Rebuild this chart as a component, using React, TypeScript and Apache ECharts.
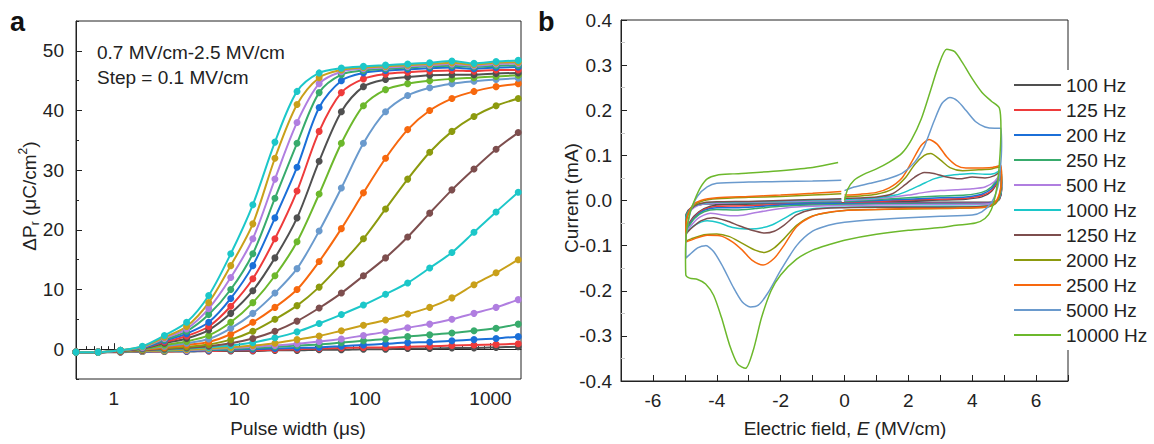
import React, { useEffect, useRef } from "react";
import * as echarts from "echarts";

// ---------------- Panel a data ----------------
const pulseWidths = [0.5, 0.75, 1.13, 1.69, 2.53, 3.8, 5.7, 8.54, 12.8, 19.2, 28.8, 43.2, 64.9, 97.3, 146, 219, 328, 493, 739, 1108, 1663];
const fieldLabels = ["0.7 MV/cm", "0.8 MV/cm", "0.9 MV/cm", "1.0 MV/cm", "1.1 MV/cm", "1.2 MV/cm", "1.3 MV/cm", "1.4 MV/cm", "1.5 MV/cm", "1.6 MV/cm", "1.7 MV/cm", "1.8 MV/cm", "1.9 MV/cm", "2.0 MV/cm", "2.1 MV/cm", "2.2 MV/cm", "2.3 MV/cm", "2.4 MV/cm", "2.5 MV/cm"];
const dP07 = [-0.5, -0.5, -0.5, -0.4, -0.4, -0.4, -0.3, -0.3, -0.3, -0.2, -0.2, -0.1, -0.1, 0, 0, 0.1, 0.1, 0.2, 0.2, 0.3, 0.4];
const dP08 = [-0.5, -0.5, -0.4, -0.4, -0.4, -0.3, -0.3, -0.2, -0.2, -0.1, 0, 0.1, 0.2, 0.3, 0.3, 0.4, 0.5, 0.6, 0.7, 0.8, 0.9];
const dP09 = [-0.5, -0.5, -0.4, -0.4, -0.3, -0.3, -0.2, -0.1, 0, 0.1, 0.2, 0.3, 0.5, 0.7, 0.9, 1.1, 1.2, 1.4, 1.6, 1.8, 2.1];
const dP10 = [-0.5, -0.5, -0.4, -0.3, -0.3, -0.2, -0.1, 0, 0.2, 0.4, 0.6, 0.8, 1.1, 1.4, 1.7, 2.1, 2.4, 2.7, 3.1, 3.5, 4.2];
const dP11 = [-0.5, -0.5, -0.4, -0.3, -0.2, -0.2, 0, 0.2, 0.4, 0.6, 0.9, 1.3, 1.7, 2.3, 2.9, 3.6, 4.2, 5, 6, 7, 8.3];
const dP12 = [-0.5, -0.5, -0.4, -0.3, -0.2, -0.1, 0.1, 0.3, 0.6, 1, 1.6, 2.2, 3.1, 4, 4.9, 5.9, 7, 8.6, 10.8, 12.8, 15];
const dP13 = [-0.5, -0.5, -0.4, -0.2, -0.1, 0.1, 0.3, 0.6, 1.1, 1.9, 2.9, 4.3, 5.8, 7.4, 9.2, 11.1, 13.6, 16.2, 19.6, 23, 26.3];
const dP14 = [-0.5, -0.5, -0.4, -0.2, 0, 0.2, 0.5, 1, 1.8, 3, 4.7, 6.9, 9.4, 12.3, 15.3, 18.8, 22.8, 26.7, 30.2, 33.5, 36.3];
const dP15 = [-0.5, -0.5, -0.3, -0.1, 0.2, 0.4, 0.8, 1.6, 3, 5, 7.3, 10.4, 14.3, 18.5, 23.5, 28.5, 33, 36.5, 39, 40.8, 42];
const dP16 = [-0.5, -0.5, -0.3, -0.1, 0.3, 0.7, 1.2, 2.5, 4.5, 7, 10, 14.7, 20.2, 26.2, 32, 36.8, 40, 42, 43.2, 44, 44.5];
const dP17 = [-0.5, -0.5, -0.3, 0, 0.5, 1, 1.7, 3.5, 6, 9.4, 13.5, 19.8, 27, 34.5, 39.8, 42.5, 43.8, 44.5, 44.9, 45.2, 45.4];
const dP18 = [-0.5, -0.5, -0.3, 0, 0.7, 1.3, 2.3, 4.5, 7.8, 12.3, 18, 26, 34.5, 40.8, 43.5, 44.5, 45, 45.3, 45.5, 45.7, 45.9];
const dP19 = [-0.5, -0.5, -0.3, 0.1, 1, 1.8, 3.2, 6, 9.8, 15.3, 22, 31.5, 39.8, 44, 45.2, 45.6, 45.9, 46, 46, 46.2, 46.3];
const dP20 = [-0.5, -0.5, -0.3, 0.2, 1.2, 2.2, 3.8, 7.2, 11.8, 18.5, 26.5, 36.5, 43, 45.3, 46.1, 46.4, 46.6, 46.7, 46.6, 46.8, 46.8];
const dP21 = [-0.5, -0.5, -0.2, 0.2, 1.4, 2.6, 4.5, 8.5, 14, 22, 30.5, 40.5, 45, 46.3, 46.7, 46.9, 47.1, 47.2, 47, 47.2, 47.3];
const dP22 = [-0.5, -0.5, -0.2, 0.3, 1.6, 3, 5.8, 10, 16, 25.3, 34.5, 43, 46, 46.7, 47, 47.2, 47.4, 47.5, 47.3, 47.5, 47.6];
const dP23 = [-0.5, -0.5, -0.2, 0.3, 1.8, 3.4, 6.8, 12, 18.5, 28.5, 38, 44.5, 46.5, 47, 47.2, 47.4, 47.6, 47.8, 47.5, 47.8, 47.9];
const dP24 = [-0.5, -0.5, -0.2, 0.4, 2, 3.8, 7.8, 14, 21, 32, 41, 45.5, 46.8, 47.2, 47.4, 47.6, 47.8, 48, 47.7, 48, 48.1];
const dP25 = [-0.5, -0.5, -0.2, 0.5, 2.3, 4.5, 9, 16, 24.2, 34.7, 43.2, 46.3, 47.1, 47.4, 47.6, 47.8, 48, 48.3, 47.9, 48.2, 48.4];
const dPCurves = [dP07, dP08, dP09, dP10, dP11, dP12, dP13, dP14, dP15, dP16, dP17, dP18, dP19, dP20, dP21, dP22, dP23, dP24, dP25];

const xMajorTicks = [1, 10, 100, 1000];
const xMinorTicks = [0.6, 0.7, 0.8, 0.9, 2, 3, 4, 5, 6, 7, 8, 9, 20, 30, 40, 50, 60, 70, 80, 90, 200, 300, 400, 500, 600, 700, 800, 900];
const yMajorTicksA = [0, 10, 20, 30, 40, 50];

// ---------------- Panel b data ([E (MV/cm), I (mA)]) ----------------
const freqLabels = ["100 Hz", "125 Hz", "200 Hz", "250 Hz", "500 Hz", "1000 Hz", "1250 Hz", "2000 Hz", "2500 Hz", "5000 Hz", "10000 Hz"];
const cv100 = [[0, -0.004], [1, -0.003], [2, -0.001], [3, 0.001], [3.8, 0.003], [4.3, 0.008], [4.6, 0.02], [4.9, 0.05], [4.92, 0.024], [4.85, 0.002], [4.7, -0.003], [4.4, -0.004], [3, -0.004], [1, -0.004], [0, -0.005], [-1, -0.006], [-2, -0.007], [-2.8, -0.008], [-3.4, -0.009], [-4, -0.01], [-4.4, -0.018], [-4.7, -0.034], [-4.97, -0.062], [-4.97, -0.038], [-4.9, -0.022], [-4.7, -0.012], [-4.4, -0.008], [-4, -0.007], [-3, -0.006], [-2, -0.006], [-1, -0.005], [-0.1, -0.004]];
const cv125 = [[0, -0.004], [1, -0.002], [2, 0.001], [3, 0.003], [3.8, 0.005], [4.3, 0.011], [4.6, 0.022], [4.9, 0.052], [4.92, 0.025], [4.85, 0.003], [4.7, -0.003], [4.4, -0.005], [3, -0.005], [1, -0.005], [0, -0.006], [-1, -0.007], [-2, -0.009], [-2.8, -0.011], [-3.4, -0.012], [-4, -0.013], [-4.4, -0.02], [-4.7, -0.036], [-4.97, -0.064], [-4.97, -0.039], [-4.9, -0.023], [-4.7, -0.012], [-4.4, -0.008], [-4, -0.006], [-3, -0.005], [-2, -0.005], [-1, -0.004], [-0.1, -0.003]];
const cv200 = [[0, -0.003], [1, 0], [2, 0.003], [3, 0.006], [3.8, 0.008], [4.3, 0.014], [4.6, 0.026], [4.9, 0.055], [4.92, 0.028], [4.85, 0.004], [4.7, -0.004], [4.4, -0.006], [3, -0.006], [1, -0.006], [0, -0.007], [-1, -0.008], [-2, -0.01], [-2.8, -0.014], [-3.4, -0.016], [-4, -0.016], [-4.4, -0.022], [-4.7, -0.038], [-4.97, -0.066], [-4.97, -0.04], [-4.9, -0.024], [-4.7, -0.012], [-4.4, -0.007], [-4, -0.006], [-3, -0.005], [-2, -0.005], [-1, -0.004], [-0.1, -0.003]];
const cv250 = [[0, -0.002], [1, 0.002], [2, 0.006], [3, 0.01], [3.8, 0.012], [4.3, 0.018], [4.6, 0.03], [4.9, 0.058], [4.92, 0.03], [4.85, 0.005], [4.7, -0.005], [4.4, -0.008], [3, -0.008], [1, -0.008], [0, -0.009], [-1, -0.01], [-2, -0.013], [-2.8, -0.018], [-3.4, -0.021], [-4, -0.02], [-4.4, -0.025], [-4.7, -0.04], [-4.97, -0.068], [-4.97, -0.04], [-4.9, -0.025], [-4.7, -0.013], [-4.4, -0.008], [-4, -0.006], [-3, -0.005], [-2, -0.004], [-1, -0.003], [-0.1, -0.002]];
const cv500 = [[0, 0], [1, 0.004], [2, 0.012], [2.5, 0.018], [3, 0.022], [3.5, 0.024], [4, 0.026], [4.4, 0.03], [4.7, 0.042], [4.9, 0.06], [4.92, 0.035], [4.85, 0.008], [4.7, -0.005], [4.4, -0.008], [3, -0.009], [1, -0.01], [0, -0.011], [-1, -0.013], [-1.8, -0.016], [-2.4, -0.022], [-3, -0.03], [-3.4, -0.034], [-3.8, -0.032], [-4.2, -0.028], [-4.6, -0.04], [-4.97, -0.07], [-4.97, -0.045], [-4.9, -0.03], [-4.7, -0.015], [-4.4, -0.008], [-4, -0.006], [-3, -0.004], [-2, -0.003], [-1, -0.001], [-0.1, 0]];
const cv1000 = [[0, 0.002], [1, 0.006], [1.6, 0.012], [2, 0.022], [2.4, 0.035], [2.8, 0.048], [3.2, 0.055], [3.6, 0.058], [4, 0.06], [4.4, 0.058], [4.7, 0.06], [4.9, 0.068], [4.92, 0.04], [4.85, 0.008], [4.7, -0.008], [4.4, -0.012], [3, -0.013], [1, -0.014], [0, -0.015], [-1, -0.018], [-1.5, -0.025], [-1.9, -0.04], [-2.3, -0.055], [-2.7, -0.062], [-3.1, -0.063], [-3.5, -0.06], [-3.9, -0.05], [-4.3, -0.045], [-4.7, -0.055], [-4.97, -0.072], [-4.97, -0.045], [-4.9, -0.028], [-4.7, -0.012], [-4.4, -0.006], [-4, -0.004], [-3, -0.003], [-2, -0.001], [-1, 0.001], [-0.1, 0.003]];
const cv1250 = [[0, 0.005], [1, 0.008], [1.5, 0.015], [1.9, 0.035], [2.2, 0.052], [2.5, 0.062], [2.8, 0.06], [3.2, 0.052], [3.6, 0.048], [4, 0.052], [4.4, 0.05], [4.7, 0.055], [4.9, 0.065], [4.92, 0.04], [4.85, 0.01], [4.7, -0.008], [4.4, -0.013], [3, -0.015], [1, -0.015], [0, -0.016], [-1, -0.02], [-1.5, -0.032], [-1.9, -0.055], [-2.2, -0.068], [-2.5, -0.072], [-2.9, -0.066], [-3.3, -0.056], [-3.7, -0.045], [-4.1, -0.038], [-4.5, -0.045], [-4.85, -0.065], [-4.97, -0.075], [-4.97, -0.05], [-4.9, -0.03], [-4.7, -0.012], [-4.4, -0.005], [-4, -0.003], [-3, -0.002], [-2, 0], [-1, 0.002], [-0.1, 0.004]];
const cv2000 = [[0, 0.008], [1, 0.014], [1.5, 0.025], [1.9, 0.05], [2.2, 0.08], [2.5, 0.1], [2.7, 0.104], [3, 0.09], [3.3, 0.073], [3.7, 0.066], [4.2, 0.068], [4.6, 0.07], [4.9, 0.075], [4.92, 0.045], [4.85, 0.01], [4.7, -0.008], [4.4, -0.015], [3, -0.018], [1, -0.02], [0, -0.022], [-1, -0.034], [-1.5, -0.055], [-1.9, -0.085], [-2.2, -0.105], [-2.5, -0.115], [-2.8, -0.11], [-3.2, -0.095], [-3.6, -0.08], [-4, -0.074], [-4.4, -0.076], [-4.8, -0.085], [-4.97, -0.09], [-4.97, -0.06], [-4.9, -0.03], [-4.7, -0.01], [-4.4, 0], [-4, 0.004], [-3, 0.007], [-2, 0.009], [-1, 0.012], [-0.1, 0.015]];
const cv2500 = [[0, 0.012], [0.5, 0.014], [1, 0.018], [1.4, 0.028], [1.8, 0.05], [2.1, 0.085], [2.4, 0.122], [2.65, 0.135], [2.9, 0.125], [3.2, 0.097], [3.5, 0.078], [3.8, 0.072], [4.2, 0.072], [4.6, 0.073], [4.9, 0.078], [4.92, 0.05], [4.85, 0.015], [4.7, -0.005], [4.4, -0.015], [3.5, -0.017], [2, -0.018], [1, -0.02], [0, -0.022], [-0.5, -0.026], [-1, -0.035], [-1.5, -0.058], [-1.9, -0.1], [-2.2, -0.128], [-2.55, -0.143], [-2.9, -0.132], [-3.2, -0.11], [-3.5, -0.092], [-3.9, -0.078], [-4.3, -0.077], [-4.7, -0.085], [-4.97, -0.092], [-4.97, -0.06], [-4.9, -0.03], [-4.75, -0.01], [-4.5, 0], [-4, 0.006], [-3, 0.009], [-2, 0.012], [-1, 0.016], [-0.1, 0.02]];
const cv5000 = [[0, 0.022], [0.3, 0.03], [0.8, 0.038], [1.3, 0.047], [1.8, 0.06], [2.2, 0.085], [2.5, 0.12], [2.8, 0.175], [3.05, 0.215], [3.3, 0.228], [3.55, 0.22], [3.8, 0.2], [4.1, 0.175], [4.4, 0.163], [4.7, 0.16], [4.9, 0.16], [4.92, 0.12], [4.88, 0.07], [4.8, 0.03], [4.6, -0.005], [4.3, -0.025], [4, -0.032], [3, -0.035], [2, -0.038], [1, -0.042], [0, -0.048], [-0.5, -0.055], [-1, -0.068], [-1.5, -0.1], [-2, -0.155], [-2.4, -0.205], [-2.7, -0.232], [-2.95, -0.236], [-3.2, -0.225], [-3.5, -0.19], [-3.8, -0.148], [-4.1, -0.113], [-4.35, -0.1], [-4.6, -0.105], [-4.85, -0.12], [-4.97, -0.128], [-4.97, -0.09], [-4.9, -0.05], [-4.8, -0.02], [-4.6, 0.01], [-4.3, 0.03], [-4, 0.038], [-3, 0.041], [-2, 0.042], [-1, 0.043], [-0.1, 0.045]];
const cv10000 = [[0, 0], [0.1, 0.025], [0.3, 0.045], [0.6, 0.058], [1, 0.07], [1.4, 0.085], [1.8, 0.105], [2.1, 0.135], [2.4, 0.18], [2.7, 0.245], [2.95, 0.3], [3.2, 0.335], [3.45, 0.33], [3.7, 0.305], [4, 0.27], [4.3, 0.24], [4.6, 0.22], [4.85, 0.205], [4.9, 0.16], [4.85, 0.08], [4.75, 0.02], [4.6, -0.02], [4.4, -0.04], [4.1, -0.05], [3.5, -0.055], [3, -0.06], [2, -0.066], [1, -0.075], [0, -0.088], [-0.5, -0.098], [-1, -0.11], [-1.5, -0.13], [-2, -0.165], [-2.3, -0.2], [-2.6, -0.26], [-2.85, -0.33], [-3.1, -0.372], [-3.35, -0.362], [-3.6, -0.32], [-3.85, -0.26], [-4.1, -0.21], [-4.35, -0.185], [-4.6, -0.175], [-4.85, -0.172], [-4.97, -0.165], [-4.98, -0.12], [-4.95, -0.07], [-4.85, -0.03], [-4.7, 0], [-4.5, 0.03], [-4.3, 0.048], [-4, 0.056], [-3.5, 0.059], [-3, 0.061], [-2, 0.066], [-1, 0.073], [-0.2, 0.084]];
const cvCurves = [cv100, cv125, cv200, cv250, cv500, cv1000, cv1250, cv2000, cv2500, cv5000, cv10000];

// ---------------- styles ----------------
const FONT = "'Liberation Sans', Arial, Helvetica, sans-serif";
const INK = "#222";
const C = {
  grey: "#505050", red: "#ee3b3b", blue: "#1b6fd8", green: "#38ab6c", purple: "#b07ee0", gold: "#c9a01a",
  cyan: "#1cc7c9", brown: "#7d4e4e", olive: "#8c9a0e", orange: "#f7680e", lightblue: "#6a9acd", lightgreen: "#6cb82c",
};
const colorsA = [C.grey, C.red, C.blue, C.green, C.purple, C.gold, C.cyan, C.brown, C.olive, C.orange, C.lightblue, C.lightgreen, C.grey, C.red, C.blue, C.green, C.purple, C.gold, C.cyan];
const colorsB = [C.grey, C.red, C.blue, C.green, C.purple, C.cyan, C.brown, C.olive, C.orange, C.lightblue, C.lightgreen];

const tickLabel = { fontSize: 19, color: INK, fontFamily: FONT };

export default function App() {
  const ref = useRef<HTMLDivElement>(null);
  useEffect(() => {
    if (!ref.current) return;
    const chart = echarts.init(ref.current, null, { renderer: "svg" });

    const seriesA = dPCurves.map((arr, i) => ({
      name: fieldLabels[i],
      type: "line",
      xAxisIndex: 0,
      yAxisIndex: 0,
      data: pulseWidths.map((x, k) => [x, arr[k]]),
      smooth: 0.3,
      symbol: "circle",
      symbolSize: 7,
      lineStyle: { width: 2, color: colorsA[i] },
      itemStyle: { color: colorsA[i] },
      z: 3,
    }));
    const seriesB = cvCurves.map((arr, i) => ({
      name: freqLabels[i],
      type: "line",
      xAxisIndex: 2,
      yAxisIndex: 2,
      data: arr,
      smooth: 0.25,
      symbol: "none",
      lineStyle: { width: 1.5, color: colorsB[i] },
      itemStyle: { color: colorsB[i] },
      z: 3,
    }));

    const option: any = {
      animation: false,
      textStyle: { fontFamily: FONT },
      grid: [
        { left: 76, top: 21, width: 445, height: 358, show: true, borderColor: INK, borderWidth: 1, backgroundColor: "transparent" },
        { left: 621, top: 20, width: 447, height: 361, show: true, borderColor: INK, borderWidth: 1, backgroundColor: "transparent" },
      ],
      xAxis: [
        {
          gridIndex: 0, type: "log", logBase: 10, min: 0.5, max: 1750, position: "bottom",
          axisLine: { show: true, lineStyle: { color: INK, width: 1 } },
          axisTick: { show: true, inside: true, length: 6, customValues: xMajorTicks, lineStyle: { color: INK } },
          axisLabel: { show: true, customValues: xMajorTicks, margin: 10, formatter: (v: number) => String(Math.round(v)), ...tickLabel },
          splitLine: { show: false }, minorTick: { show: false },
        },
        {
          gridIndex: 0, type: "log", logBase: 10, min: 0.5, max: 1750, position: "bottom",
          axisLine: { show: false },
          axisTick: { show: true, inside: true, length: 3, customValues: xMinorTicks, lineStyle: { color: INK } },
          axisLabel: { show: false },
          splitLine: { show: false },
        },
        {
          gridIndex: 1, type: "value", min: -7, max: 7, interval: 1,
          axisLine: { show: true, onZero: false, lineStyle: { color: INK, width: 1 } },
          axisTick: { show: true, inside: true, length: 6, lineStyle: { color: INK } },
          axisLabel: { margin: 10, formatter: (v: number) => (Math.round(v) % 2 === 0 ? String(Math.round(v)) : ""), ...tickLabel },
          splitLine: { show: false },
        },
      ],
      yAxis: [
        {
          gridIndex: 0, type: "value", min: -5, max: 55, interval: 5, position: "left",
          axisLine: { show: true, lineStyle: { color: INK, width: 1 } },
          axisTick: { show: true, inside: true, length: 3, lineStyle: { color: INK } },
          axisLabel: { margin: 12, formatter: (v: number) => (v >= 0 && Math.round(v) % 10 === 0 ? String(Math.round(v)) : ""), ...tickLabel },
          splitLine: { show: false },
        },
        {
          gridIndex: 0, type: "value", min: -5, max: 55, interval: 5, position: "left", offset: 0,
          axisLine: { show: false },
          axisTick: { show: true, inside: true, length: 6, customValues: yMajorTicksA, lineStyle: { color: INK } },
          axisLabel: { show: false },
          splitLine: { show: false },
        },
        {
          gridIndex: 1, type: "value", min: -0.4, max: 0.4, interval: 0.1,
          axisLine: { show: true, onZero: false, lineStyle: { color: INK, width: 1 } },
          axisTick: { show: true, inside: true, length: 6, lineStyle: { color: INK } },
          minorTick: { show: true, splitNumber: 2, length: 4, lineStyle: { color: "#c8c8c8" } },
          axisLabel: { margin: 9, formatter: (v: number) => (Math.abs(v) < 1e-9 ? "0.0" : v.toFixed(1)), ...tickLabel },
          splitLine: { show: false },
        },
      ],
      legend: {
        data: freqLabels,
        orient: "vertical",
        left: 1005,
        top: 70,
        icon: "rect",
        itemWidth: 47,
        itemHeight: 2,
        itemGap: 5,
        padding: [5, 5, 5, 9],
        backgroundColor: "#ffffff",
        selectedMode: false,
        textStyle: { fontSize: 19, lineHeight: 20, color: INK, fontFamily: FONT },
        z: 10,
      },
      graphic: [
        { type: "text", left: 10, top: 8, style: { text: "a", fontSize: 27, fontWeight: "bold", fill: "#111", fontFamily: FONT } },
        { type: "text", left: 538, top: 8, style: { text: "b", fontSize: 27, fontWeight: "bold", fill: "#111", fontFamily: FONT } },
        { type: "text", x: 97, y: 52, style: { text: "0.7 MV/cm-2.5 MV/cm", fontSize: 19, fill: INK, fontFamily: FONT, verticalAlign: "middle" } },
        { type: "text", x: 97, y: 77, style: { text: "Step = 0.1 MV/cm", fontSize: 19, fill: INK, fontFamily: FONT, verticalAlign: "middle" } },
        { type: "text", x: 298, y: 428, style: { text: "Pulse width (μs)", fontSize: 19, fill: INK, fontFamily: FONT, align: "center", verticalAlign: "middle" } },
        {
          type: "text", x: 845, y: 428,
          style: {
            text: "{n|Electric field, }{i|E}{n| (MV/cm)}", align: "center", verticalAlign: "middle", fill: INK,
            rich: { n: { fontSize: 19, fontFamily: FONT, fill: INK }, i: { fontSize: 19, fontFamily: FONT, fontStyle: "italic", fill: INK } },
          },
        },
        {
          type: "text", x: 29, y: 196, rotation: Math.PI / 2,
          style: {
            text: "{n|ΔP}{sub|r}{n| (μC/cm}{sup|2}{n|)}", align: "center", verticalAlign: "middle", fill: INK,
            rich: {
              n: { fontSize: 19, fontFamily: FONT, fill: INK, lineHeight: 24 },
              sub: { fontSize: 12, fontFamily: FONT, fill: INK, verticalAlign: "bottom", lineHeight: 12 },
              sup: { fontSize: 12, fontFamily: FONT, fill: INK, verticalAlign: "top", lineHeight: 12 },
            },
          },
        },
        { type: "text", x: 571, y: 198, rotation: Math.PI / 2, style: { text: "Current (mA)", fontSize: 19, fill: INK, fontFamily: FONT, align: "center", verticalAlign: "middle" } },
      ],
      series: [...seriesA, ...seriesB],
    };
    chart.setOption(option);
    return () => chart.dispose();
  }, []);
  return <div ref={ref} style={{ position: "absolute", left: 0, top: 0, width: 1154, height: 444, background: "#fff" }} />;
}
